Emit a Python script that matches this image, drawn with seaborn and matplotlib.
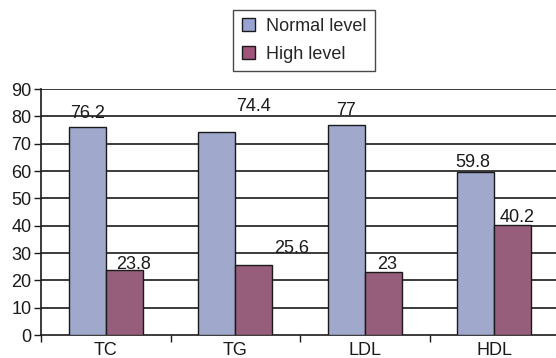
import matplotlib
matplotlib.use('Agg')
import matplotlib.pyplot as plt
from matplotlib.ticker import FixedLocator
import pandas as pd
import seaborn as sns

categories = ['TC', 'TG', 'LDL', 'HDL']
normal_level = [76.2, 74.4, 77, 59.8]
high_level = [23.8, 25.6, 23, 40.2]
series_names = ['Normal level', 'High level']
y_ticks = [0, 10, 20, 30, 40, 50, 60, 70, 80, 90]

df = pd.DataFrame({
    'lipid': categories * 2,
    'value': normal_level + high_level,
    'level': [series_names[0]] * 4 + [series_names[1]] * 4,
})

sns.set_style('white')
plt.rcParams['font.family'] = ['Liberation Sans', 'DejaVu Sans']

fig = plt.figure(figsize=(5.56, 3.58), dpi=100)
ax = fig.add_axes([41 / 556, 23 / 358, 518 / 556, 246 / 358])

colors = {'Normal level': '#99a3d3', 'High level': '#a0547a'}
sns.barplot(data=df, x='lipid', y='value', hue='level', palette=colors,
            width=0.57, edgecolor='#1a1a1a', linewidth=1.0, ax=ax, zorder=3,
            legend=False)

ax.set_xlim(-0.5, 3.5)
ax.set_ylim(0, 90)
ax.set_yticks(y_ticks)
for y in y_ticks[1:]:
    ax.axhline(y, color='#1a1a1a', lw=1.2, zorder=1)

# category labels at centres, tick marks at the boundaries
ax.set_xticks([i for i in range(len(categories))])
ax.set_xticklabels(categories, fontsize=13)
ax.tick_params(axis='x', length=0, pad=5, colors='#1a1a1a')
ax.xaxis.set_minor_locator(FixedLocator([i - 0.5 for i in range(len(categories) + 1)]))
ax.tick_params(axis='x', which='minor', length=5, width=1, color='#1a1a1a', direction='out', bottom=True)
ax.tick_params(axis='y', length=5, width=1, color='#1a1a1a', direction='out', left=True,
               labelsize=13, pad=2, labelcolor='#1a1a1a')

for s in ['top', 'right']:
    ax.spines[s].set_visible(False)
for s in ['left', 'bottom']:
    ax.spines[s].set_color('#1a1a1a')
    ax.spines[s].set_linewidth(1.2)
ax.set_xlabel('')
ax.set_ylabel('')

# value labels (offsets in pixels, like the excel layout)
label_offsets = [
    [(0, 13), (37, 25), (0, 14), (-3, 9)],
    [(9, 5), (38, 17), (4, 8), (4, 8)],
]
for k, cont in enumerate(ax.containers):
    vals = [normal_level, high_level][k]
    for j, bar in enumerate(cont):
        dx, dy = label_offsets[k][j]
        ax.annotate(f'{vals[j]:g}', (bar.get_x() + bar.get_width() / 2, bar.get_height()),
                    xytext=(dx, dy), textcoords='offset pixels', ha='center', va='center',
                    fontsize=13, color='#1a1a1a', zorder=5)

handles = [plt.Rectangle((0, 0), 1, 1, facecolor=colors[n], edgecolor='#1a1a1a', lw=1) for n in series_names]
leg = fig.legend(handles, series_names, loc='upper center', bbox_to_anchor=(304 / 556, 1 - 10 / 358),
                 fontsize=13, frameon=True, fancybox=False, edgecolor='#1a1a1a',
                 handlelength=0.75, handleheight=0.75, labelspacing=0.6, handletextpad=0.6,
                 borderpad=0.45, borderaxespad=0)
leg.get_frame().set_linewidth(1.0)

fig.savefig('out.png', dpi=100)
